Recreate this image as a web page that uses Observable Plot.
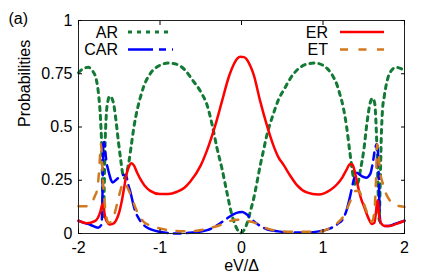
<!DOCTYPE html>
<html><head><meta charset="utf-8">
<script src="https://cdn.jsdelivr.net/npm/d3@7"></script>
<script src="https://cdn.jsdelivr.net/npm/@observablehq/plot@0.6"></script>
<style>body{margin:0;background:#fff}#chart{width:436px;height:280px}</style>
</head><body><div id="chart"></div>
<script>
const xTicks = [-2, -1, 0, 1, 2];
const yTicks = [0, 0.25, 0.5, 0.75, 1];
const seriesNames = ["AR", "CAR", "ER", "ET"];

const AR = [[-2.0,0.755],[-1.95,0.772],[-1.88,0.78],[-1.83,0.765],[-1.78,0.72],[-1.75,0.64],[-1.73,0.54],[-1.715,0.4],[-1.705,0.22],[-1.695,0.08],[-1.685,0.2],[-1.675,0.4],[-1.66,0.55],[-1.64,0.62],[-1.615,0.645],[-1.59,0.635],[-1.565,0.6],[-1.54,0.53],[-1.51,0.43],[-1.48,0.34],[-1.455,0.275],[-1.435,0.26],[-1.41,0.285],[-1.38,0.34],[-1.35,0.42],[-1.32,0.5],[-1.28,0.58],[-1.24,0.64],[-1.2,0.69],[-1.12,0.75],[-1.0,0.79],[-0.9,0.80],[-0.8,0.795],[-0.7,0.77],[-0.6,0.72],[-0.5,0.665],[-0.42,0.60],[-0.36,0.51],[-0.30,0.40],[-0.24,0.305],[-0.18,0.195],[-0.12,0.09],[-0.06,0.025],[-0.01,0.003],[0.03,0.015],[0.07,0.05],[0.12,0.12],[0.15,0.165],[0.19,0.24],[0.23,0.32],[0.27,0.39],[0.31,0.46],[0.39,0.56],[0.45,0.625],[0.52,0.675],[0.64,0.75],[0.72,0.78],[0.80,0.795],[0.9,0.80],[1.0,0.79],[1.05,0.775],[1.12,0.74],[1.17,0.70],[1.21,0.65],[1.25,0.59],[1.29,0.50],[1.33,0.38],[1.37,0.27],[1.40,0.225],[1.43,0.24],[1.46,0.30],[1.50,0.39],[1.54,0.52],[1.58,0.615],[1.61,0.635],[1.635,0.61],[1.65,0.52],[1.665,0.36],[1.68,0.15],[1.69,0.06],[1.70,0.2],[1.715,0.45],[1.73,0.58],[1.75,0.64],[1.80,0.735],[1.85,0.77],[1.89,0.78],[1.95,0.775],[2.0,0.765]];

const CAR = [[-2.0,0.06],[-1.93,0.05],[-1.85,0.04],[-1.76,0.027],[-1.72,0.04],[-1.71,0.1],[-1.705,0.2],[-1.70,0.33],[-1.695,0.42],[-1.685,0.43],[-1.67,0.38],[-1.655,0.33],[-1.64,0.305],[-1.62,0.275],[-1.60,0.25],[-1.58,0.24],[-1.53,0.255],[-1.48,0.27],[-1.44,0.275],[-1.415,0.27],[-1.39,0.23],[-1.36,0.19],[-1.33,0.14],[-1.30,0.1],[-1.27,0.077],[-1.24,0.058],[-1.16,0.028],[-1.0,0.008],[-0.8,0.0],[-0.6,0.005],[-0.42,0.016],[-0.3,0.038],[-0.18,0.07],[-0.1,0.09],[-0.03,0.1],[0.01,0.101],[0.07,0.088],[0.13,0.065],[0.19,0.046],[0.31,0.02],[0.45,0.01],[0.6,0.005],[0.8,0.005],[0.95,0.01],[1.09,0.024],[1.18,0.045],[1.25,0.072],[1.29,0.11],[1.33,0.17],[1.37,0.24],[1.41,0.285],[1.44,0.28],[1.48,0.268],[1.53,0.262],[1.58,0.28],[1.61,0.33],[1.64,0.4],[1.66,0.42],[1.675,0.38],[1.685,0.25],[1.695,0.1],[1.705,0.05],[1.74,0.035],[1.8,0.035],[1.88,0.045],[2.0,0.06]];

const ER = [[-2.0,0.06],[-1.9,0.048],[-1.8,0.058],[-1.76,0.075],[-1.73,0.105],[-1.71,0.135],[-1.70,0.14],[-1.69,0.12],[-1.675,0.08],[-1.65,0.055],[-1.62,0.042],[-1.58,0.045],[-1.54,0.06],[-1.50,0.1],[-1.47,0.15],[-1.44,0.215],[-1.41,0.28],[-1.38,0.315],[-1.35,0.33],[-1.32,0.32],[-1.28,0.285],[-1.24,0.255],[-1.19,0.225],[-1.12,0.2],[-1.0,0.185],[-0.9,0.185],[-0.79,0.196],[-0.7,0.215],[-0.63,0.243],[-0.5,0.32],[-0.4,0.415],[-0.32,0.51],[-0.24,0.62],[-0.16,0.73],[-0.1,0.79],[-0.05,0.822],[-0.015,0.83],[0.03,0.828],[0.07,0.815],[0.11,0.785],[0.15,0.745],[0.23,0.62],[0.31,0.51],[0.39,0.415],[0.45,0.36],[0.52,0.32],[0.6,0.27],[0.68,0.227],[0.8,0.193],[0.945,0.183],[1.09,0.204],[1.17,0.23],[1.24,0.265],[1.29,0.3],[1.33,0.325],[1.36,0.325],[1.39,0.29],[1.43,0.22],[1.47,0.16],[1.50,0.13],[1.56,0.07],[1.60,0.045],[1.63,0.05],[1.65,0.1],[1.665,0.155],[1.675,0.15],[1.69,0.08],[1.71,0.05],[1.76,0.035],[1.82,0.035],[1.9,0.045],[2.0,0.06]];

const ET = [[-2.0,0.128],[-1.9,0.128],[-1.84,0.145],[-1.80,0.175],[-1.77,0.21],[-1.75,0.28],[-1.735,0.37],[-1.725,0.42],[-1.715,0.38],[-1.70,0.25],[-1.68,0.15],[-1.66,0.08],[-1.63,0.05],[-1.60,0.055],[-1.56,0.09],[-1.52,0.15],[-1.48,0.21],[-1.45,0.24],[-1.42,0.23],[-1.38,0.2],[-1.34,0.16],[-1.30,0.12],[-1.26,0.085],[-1.2,0.055],[-1.1,0.035],[-1.0,0.024],[-0.8,0.012],[-0.63,0.01],[-0.45,0.02],[-0.26,0.04],[-0.15,0.058],[-0.05,0.065],[0.05,0.06],[0.15,0.052],[0.31,0.024],[0.45,0.012],[0.6,0.008],[0.93,0.008],[1.09,0.027],[1.18,0.05],[1.25,0.08],[1.3,0.12],[1.35,0.165],[1.40,0.2],[1.44,0.2],[1.48,0.165],[1.52,0.12],[1.56,0.08],[1.60,0.055],[1.63,0.1],[1.65,0.25],[1.665,0.42],[1.68,0.38],[1.70,0.29],[1.73,0.24],[1.76,0.2],[1.82,0.155],[1.88,0.135],[1.95,0.128],[2.0,0.125]];

const seriesData = [AR, CAR, ER, ET];
const colors = ["#127a34", "#0000ff", "#ff0000", "#d2781e"];
const dashes = ["4,5", "25,6,7,6", null, "8,10.5"];
const widths = [3, 2.5, 2.5, 2.5];

const lines = seriesData.map((arr, i) => Plot.line(arr, {
  x: d => d[0], y: d => d[1], stroke: colors[i], strokeWidth: widths[i],
  strokeDasharray: dashes[i] ?? undefined, curve: "monotone-x"
}));

const plot = Plot.plot({
  width: 436, height: 280,
  marginLeft: 78, marginRight: 32, marginTop: 20, marginBottom: 47,
  style: {fontSize: "16px", fontFamily: "'Liberation Sans', Arial, sans-serif", background: "#fff", overflow: "visible"},
  x: {domain: [-2, 2]},
  y: {domain: [0, 1]},
  marks: [
    ...lines,
    Plot.frame({stroke: "#222", strokeWidth: 1}),
    Plot.axisX({ticks: xTicks, anchor: "bottom", tickSize: -4, tickPadding: 12.5, tickFormat: d => String(d), label: null}),
    Plot.axisX({ticks: xTicks, anchor: "top", tickSize: -4, tickFormat: () => "", label: null}),
    Plot.axisY({ticks: yTicks, anchor: "left", tickSize: -4, tickPadding: 10, tickFormat: d => String(d), label: null}),
    Plot.axisY({ticks: yTicks, anchor: "right", tickSize: -4, tickFormat: () => "", label: null}),
    Plot.text(["Probabilities"], {frameAnchor: "left", dx: -54, rotate: -90, text: d => d, fill: "#000"}),
    Plot.text(["eV/Δ"], {frameAnchor: "bottom", dy: 37, text: d => d, fill: "#000"}),
    Plot.text(["(a)"], {frameAnchor: "top-left", dx: -70, dy: -8, textAnchor: "start", text: d => d, fill: "#000"})
  ]
});
document.getElementById("chart").appendChild(plot);

// legend inside the frame (two columns, gnuplot style)
const svg = d3.select(plot);
const legend = [
  {i: 0, tx: 118, ty: 38, lx1: 128, lx2: 173, ly: 32},
  {i: 1, tx: 118, ty: 55, lx1: 128, lx2: 173, ly: 49.5},
  {i: 2, tx: 328, ty: 38, lx1: 340, lx2: 384, ly: 32},
  {i: 3, tx: 328, ty: 55, lx1: 340, lx2: 384, ly: 49.5}
];
const g = svg.append("g").attr("class", "legend");
legend.forEach(e => {
  g.append("text").attr("x", e.tx).attr("y", e.ty).attr("text-anchor", "end")
    .attr("font-size", 16).attr("fill", "#000").text(seriesNames[e.i]);
  g.append("line").attr("x1", e.lx1).attr("x2", e.lx2).attr("y1", e.ly).attr("y2", e.ly)
    .attr("stroke", colors[e.i]).attr("stroke-width", widths[e.i])
    .attr("stroke-dasharray", dashes[e.i] || null);
});
</script></body></html>
